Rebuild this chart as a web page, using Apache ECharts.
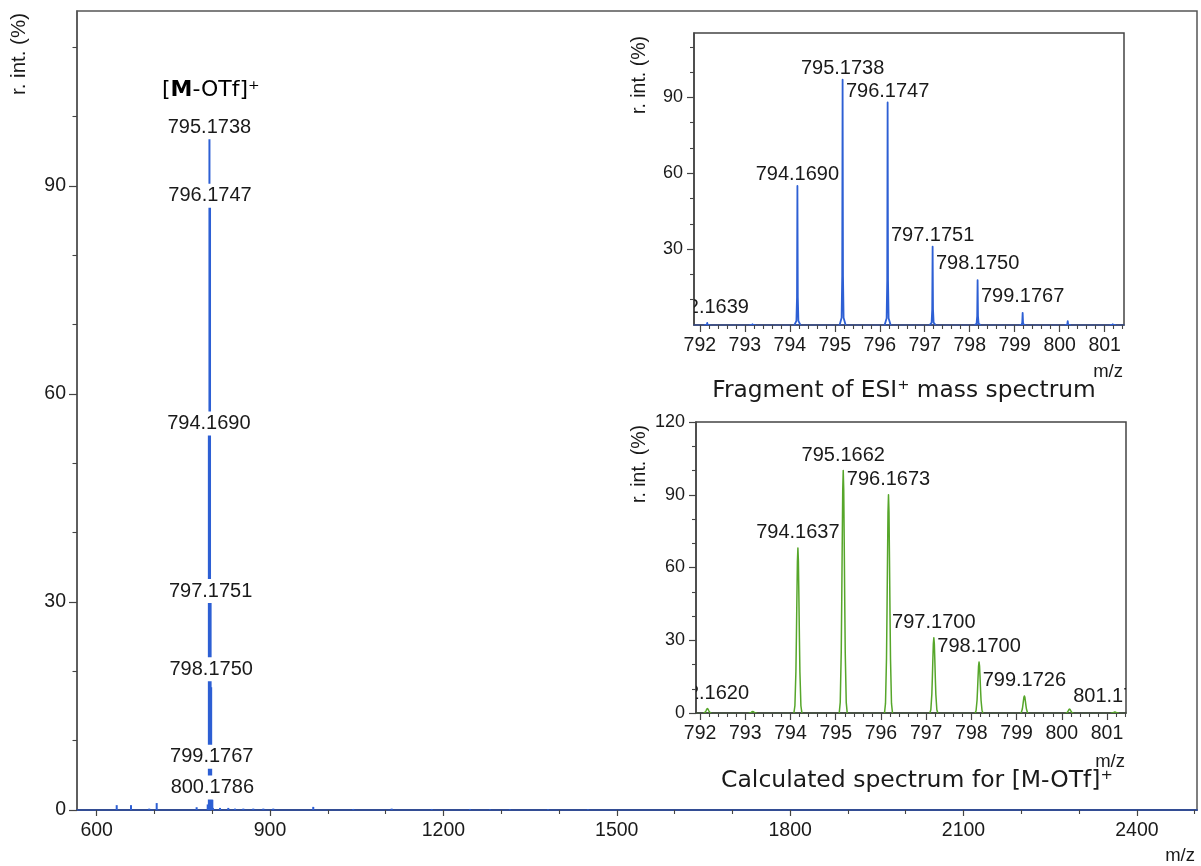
<!DOCTYPE html>
<html>
<head>
<meta charset="utf-8">
<script src="https://cdn.jsdelivr.net/npm/echarts@6/dist/echarts.min.js"></script>
<style>
  html, body { margin: 0; padding: 0; background: #fff; }
  #chart { width: 1201px; height: 866px; }
</style>
</head>
<body>
<div id="chart"></div>
<script>
// ---------------- spectrum data ----------------
// Measured ESI+ isotope cluster of [M-OTf]+ : m/z and relative intensity (%)
const measMz  = [792.1639, 793.1700, 794.1690, 795.1738, 796.1747, 797.1751, 798.1750, 799.1767, 800.1786, 801.1800];
const measInt = [0.8, 0.3, 55.0, 97.0, 88.0, 31.0, 17.7, 4.8, 1.5, 0.3];
// peaks that carry an m/z label in the full-range view and in the fragment view
const fullLabelled = [794.1690, 795.1738, 796.1747, 797.1751, 798.1750, 799.1767, 800.1786];
const fragLabelled = [792.1639, 794.1690, 795.1738, 796.1747, 797.1751, 798.1750, 799.1767];

// Weak signals elsewhere in the full m/z range
const minorMz  = [634.7, 659.4, 691.0, 703.9, 773.0, 813.4, 827.8, 839.4, 853.8, 871.0, 888.4, 905.6,
                  974.8, 1044.0, 1110.5, 1179.7, 1245.9, 1280.5, 1315.0, 1381.0, 1450.0];
const minorInt = [0.7, 0.7, 0.2, 1.0, 0.4, 0.3, 0.3, 0.2, 0.2, 0.2, 0.2, 0.2,
                  0.45, 0.15, 0.2, 0.15, 0.15, 0.1, 0.1, 0.1, 0.1];

// Calculated isotope pattern of [M-OTf]+
const calcMz  = [792.1620, 793.1650, 794.1637, 795.1662, 796.1673, 797.1700, 798.1700, 799.1726, 800.1710, 801.1739];
const calcInt = [1.8, 0.6, 68.0, 100.0, 90.0, 31.0, 21.0, 7.0, 1.6, 0.4];
const calcLabelled = [792.1620, 794.1637, 795.1662, 796.1673, 797.1700, 798.1700, 799.1726, 801.1739];

// Axis tick labels
const fullXTicks = [600, 900, 1200, 1500, 1800, 2100, 2400];
const fullYTicks = [0, 30, 60, 90];
const zoomXTicks = [792, 793, 794, 795, 796, 797, 798, 799, 800, 801];
const fragYTicks = [30, 60, 90];
const calcYTicks = [0, 30, 60, 90, 120];

// ---------------- styling / layout ----------------
const SANS = "'Liberation Sans', Arial, sans-serif";
const TITLE_FONT = "'DejaVu Sans', sans-serif";
const INK = '#1a1a1a';
const BLUE = '#2d5fd4';
const GREEN = '#56a62a';

// distance (px) from a peak apex up to the centre of its label
const fullLift = { '794.1690': 5, '795.1738': 10, '796.1747': 4, '797.1751': 4, '798.1750': 18, '799.1767': 20, '800.1786': 12 };
const fragLift = { '792.1639': 15, '798.1750': 16.5, '799.1767': 16 };
const fragLiftDefault = 11.5;
const calcLiftDefault = 15.5;

// peak outlines: [dx in px, fraction of apex height]
const fragShape = [[-3, 0], [-1, 0.03], [-0.4, 0.2], [0, 1], [0.4, 0.2], [1, 0.03], [3, 0]];
const calcShape = [[-4, 0], [-3, 0.044], [-2, 0.25], [-1.5, 0.46], [-1, 0.7], [-0.5, 0.92], [0, 1],
                   [0.5, 0.92], [1, 0.7], [1.5, 0.46], [2, 0.25], [3, 0.044], [4, 0]];

function zip(a, b) { return a.map((v, i) => [v, b[i]]); }
function intensityOf(mzList, intList, mz) { return intList[mzList.indexOf(mz)]; }
function minorSteps(lo, hi, step, majorEvery) {
  const out = [];
  const n = Math.round((hi - lo) / step);
  for (let i = 0; i <= n; i++) {
    if (i % majorEvery !== 0) out.push(Math.round((lo + i * step) * 1000) / 1000);
  }
  return out;
}

// ---------------- renderers ----------------
function stickRenderer(color, width) {
  return function (params, api) {
    const mz = api.value(0);
    const base = api.coord([mz, 0]);
    const top = api.coord([mz, api.value(1)]);
    return {
      type: 'line',
      shape: { x1: base[0], y1: base[1], x2: top[0], y2: top[1] },
      style: { stroke: color, lineWidth: width },
      z2: 1
    };
  };
}
function profileRenderer(color, width, shape) {
  return function (params, api) {
    const mz = api.value(0);
    const base = api.coord([mz, 0]);
    const top = api.coord([mz, api.value(1)]);
    const dy = base[1] - top[1];
    const pts = shape.map(p => [base[0] + p[0], base[1] - p[1] * dy]);
    return {
      type: 'polyline',
      shape: { points: pts },
      style: { stroke: color, lineWidth: width, fill: null, lineJoin: 'round' },
      z2: 1
    };
  };
}
function labelRenderer(texts, liftOf, withBackground) {
  return function (params, api) {
    const p = api.coord([api.value(0), api.value(1)]);
    const txt = texts[params.dataIndex];
    const style = {
      text: txt, fill: INK, font: '20px ' + SANS,
      align: 'center', verticalAlign: 'middle'
    };
    if (withBackground) {
      style.backgroundColor = '#fff';
      style.padding = [1, 1];
      style.lineHeight = 22;
    }
    return { type: 'text', x: p[0], y: p[1] - liftOf(txt), style: style, z2: 10 };
  };
}

// ---------------- axes ----------------
function plainNumber(v) { return String(v); }
function mainAxis(dim, grid, min, max, ticks, labels, opts) {
  return {
    type: 'value', gridIndex: grid, min: min, max: max,
    position: dim === 'x' ? 'bottom' : 'left',
    axisLine: { show: true, onZero: false, lineStyle: { color: opts.lineColor || '#444', width: opts.lineWidth || 1.5 } },
    axisTick: { show: true, customValues: ticks, length: opts.tickLen, lineStyle: { color: '#444', width: 1.2 } },
    axisLabel: { show: true, customValues: labels, margin: opts.margin, color: INK,
                 fontSize: opts.fontSize, fontFamily: SANS, formatter: plainNumber },
    splitLine: { show: false }
  };
}
function minorAxis(dim, grid, min, max, ticks, len) {
  return {
    type: 'value', gridIndex: grid, min: min, max: max,
    position: dim === 'x' ? 'bottom' : 'left',
    axisLine: { show: false, onZero: false },
    axisTick: { show: true, customValues: ticks, length: len, lineStyle: { color: '#444', width: 1.1 } },
    axisLabel: { show: false },
    splitLine: { show: false }
  };
}

const FULL_X = [566, 2504], FULL_Y = [0, 115.2];
const FRAG_X = [791.87, 801.43], FRAG_Y = [0, 115.5];
const CALC_X = [791.91, 801.42], CALC_Y = [0, 120];

const xAxes = [
  mainAxis('x', 0, FULL_X[0], FULL_X[1], fullXTicks, fullXTicks, { tickLen: 6, margin: 11, fontSize: 19.5, lineColor: '#334d94', lineWidth: 2 }),
  minorAxis('x', 0, FULL_X[0], FULL_X[1], minorSteps(600, 2500, 100, 3), 4),
  mainAxis('x', 1, FRAG_X[0], FRAG_X[1], zoomXTicks, zoomXTicks, { tickLen: 7, margin: 11, fontSize: 19.5, lineColor: '#34498a' }),
  minorAxis('x', 1, FRAG_X[0], FRAG_X[1], minorSteps(792, 801.4, 0.2, 5), 4),
  mainAxis('x', 2, CALC_X[0], CALC_X[1], zoomXTicks, zoomXTicks, { tickLen: 7, margin: 11, fontSize: 19.5, lineColor: '#3d4a38' }),
  minorAxis('x', 2, CALC_X[0], CALC_X[1], minorSteps(792, 801.4, 0.2, 5), 4)
];
const yAxes = [
  mainAxis('y', 0, FULL_Y[0], FULL_Y[1], fullYTicks, fullYTicks, { tickLen: 8, margin: 11, fontSize: 19.5, lineColor: '#555' }),
  minorAxis('y', 0, FULL_Y[0], FULL_Y[1], minorSteps(0, 110, 10, 3), 4.5),
  mainAxis('y', 1, FRAG_Y[0], FRAG_Y[1], fragYTicks, fragYTicks, { tickLen: 7, margin: 11, fontSize: 18 }),
  minorAxis('y', 1, FRAG_Y[0], FRAG_Y[1], minorSteps(0, 110, 10, 3), 4),
  mainAxis('y', 2, CALC_Y[0], CALC_Y[1], calcYTicks, calcYTicks, { tickLen: 7, margin: 11, fontSize: 18 }),
  minorAxis('y', 2, CALC_Y[0], CALC_Y[1], minorSteps(0, 120, 10, 3), 4)
];

// ---------------- series ----------------
const fullPeaks = zip(measMz, measInt).concat(zip(minorMz, minorInt));
const fullLabelData = fullLabelled.map(m => [m, intensityOf(measMz, measInt, m)]);
const fullLabelText = fullLabelled.map(m => m.toFixed(4));
const fragLabelData = fragLabelled.map(m => [m, intensityOf(measMz, measInt, m)]);
const fragLabelText = fragLabelled.map(m => m.toFixed(4));
const calcLabelData = calcLabelled.map(m => [m, intensityOf(calcMz, calcInt, m)]);
const calcLabelText = calcLabelled.map(m => m.toFixed(4));

const series = [
  { type: 'custom', name: 'ESI+ spectrum', xAxisIndex: 0, yAxisIndex: 0, z: 2,
    data: fullPeaks, renderItem: stickRenderer(BLUE, 2), silent: true },
  { type: 'custom', name: 'ESI+ peak labels', xAxisIndex: 0, yAxisIndex: 0, z: 4,
    data: fullLabelData, renderItem: labelRenderer(fullLabelText, t => fullLift[t], true), silent: true },
  { type: 'custom', name: 'fragment', xAxisIndex: 2, yAxisIndex: 2, z: 2, clip: true,
    data: zip(measMz, measInt), renderItem: profileRenderer(BLUE, 1.8, fragShape), silent: true },
  { type: 'custom', name: 'fragment labels', xAxisIndex: 2, yAxisIndex: 2, z: 4, clip: true,
    data: fragLabelData, renderItem: labelRenderer(fragLabelText, t => (t in fragLift ? fragLift[t] : fragLiftDefault), false), silent: true },
  { type: 'custom', name: 'calculated', xAxisIndex: 4, yAxisIndex: 4, z: 2, clip: true,
    data: zip(calcMz, calcInt), renderItem: profileRenderer(GREEN, 1.5, calcShape), silent: true },
  { type: 'custom', name: 'calculated labels', xAxisIndex: 4, yAxisIndex: 4, z: 4, clip: true,
    data: calcLabelData, renderItem: labelRenderer(calcLabelText, () => calcLiftDefault, false), silent: true }
];

// ---------------- text ----------------
function txt(x, y, text, font, align, extra) {
  return Object.assign({
    type: 'text', x: x, y: y, silent: true, z: 10,
    style: { text: text, font: font, fill: INK, align: align || 'center', verticalAlign: 'middle' }
  }, extra || {});
}
const graphic = [
  txt(19, 54, 'r. int. (%)', '20.5px ' + SANS, 'center', { rotation: Math.PI / 2 }),
  txt(1195, 856, 'm/z', '18.5px ' + SANS, 'right'),
  txt(640, 75, 'r. int. (%)', '19.5px ' + SANS, 'center', { rotation: Math.PI / 2 }),
  txt(1123, 372, 'm/z', '18.5px ' + SANS, 'right'),
  txt(904, 391, 'Fragment of ESI⁺ mass spectrum', '23.3px ' + TITLE_FONT, 'center'),
  txt(640, 464, 'r. int. (%)', '19.5px ' + SANS, 'center', { rotation: Math.PI / 2 }),
  txt(1125, 762, 'm/z', '18.5px ' + SANS, 'right'),
  txt(917, 781, 'Calculated spectrum for [M-OTf]⁺', '23.5px ' + TITLE_FONT, 'center'),
  {
    type: 'text', x: 162, y: 90, silent: true, z: 10,
    style: {
      text: '{n|[}{b|M}{n|-OTf]⁺}',
      align: 'left', verticalAlign: 'middle',
      rich: {
        n: { fontFamily: TITLE_FONT, fontSize: 22, color: INK },
        b: { fontFamily: TITLE_FONT, fontSize: 22, fontWeight: 'bold', color: INK }
      }
    }
  }
];

const chart = echarts.init(document.getElementById('chart'), null, { renderer: 'canvas' });
chart.setOption({
  animation: false,
  backgroundColor: '#fff',
  grid: [
    { left: 77, top: 11, width: 1120, height: 799, show: true, borderColor: '#555', borderWidth: 1.5, backgroundColor: 'transparent' },
    { left: 694, top: 33, width: 430, height: 292, show: true, borderColor: '#444', borderWidth: 1.5, backgroundColor: '#fff' },
    { left: 696, top: 422, width: 430, height: 291, show: true, borderColor: '#444', borderWidth: 1.5, backgroundColor: '#fff' }
  ],
  xAxis: xAxes,
  yAxis: yAxes,
  series: series,
  graphic: graphic
});
</script>
</body>
</html>
